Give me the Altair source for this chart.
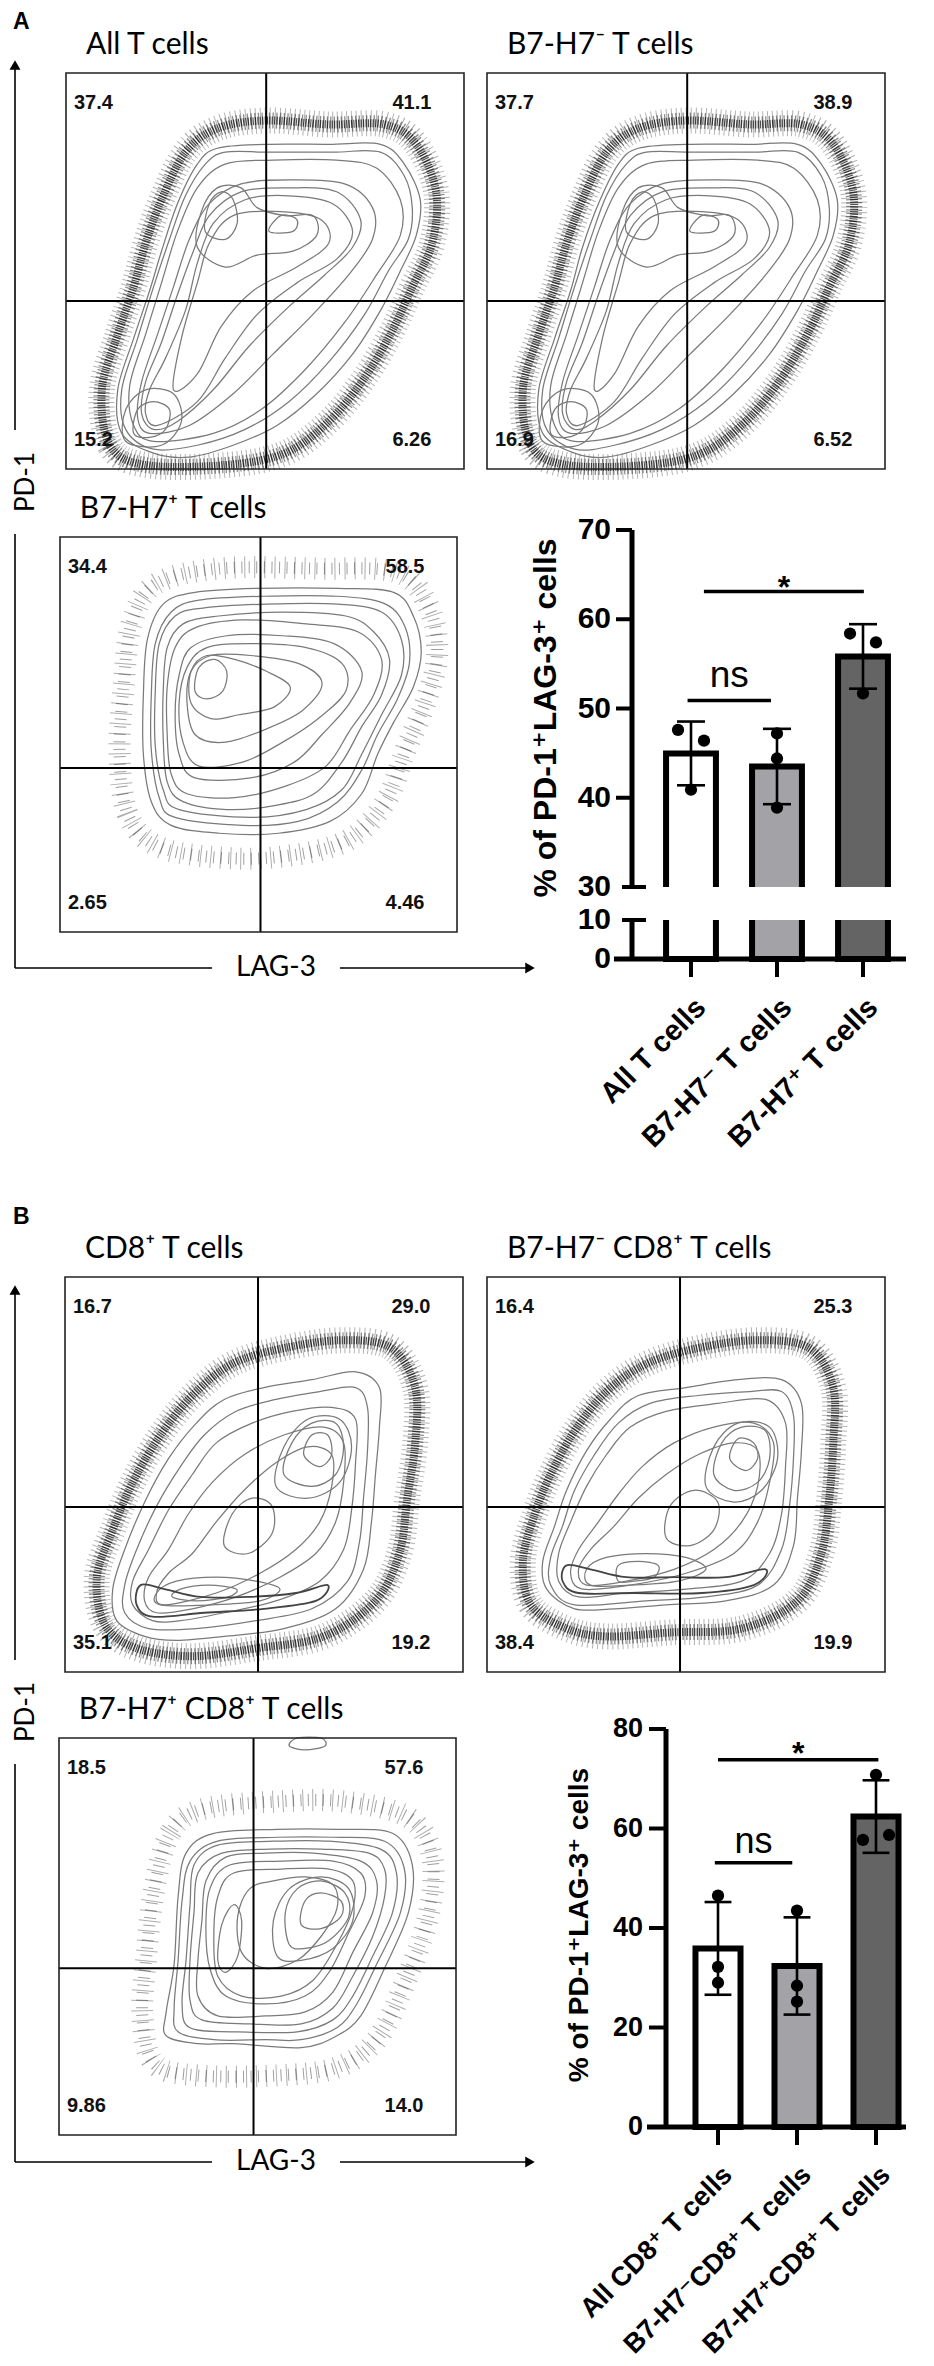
import altair as alt
import pandas as pd

M = 8  # page margin of the embed

# ================= values =================
# ---- bar charts: individual replicate values (bars / error bars are computed from them)
A_CATS = ["All T cells", "B7-H7\u207b T cells", "B7-H7\u207a T cells"]
A_DOTS = [[47.6, 46.4, 40.9], [47.2, 44.4, 38.9], [58.4, 57.4, 51.7]]
A_SIDE = [[-1, 1, 0], [0, 0, 0], [-1, 1, 0]]
A_TICKS = [0, 10, 30, 40, 50, 60, 70]
A_BREAK = [10, 30]
A_SIG = [[-0.04, 0.93, 50.9, "ns"], [0.15, 2.01, 63.1, "*"]]

B_CATS = ["All CD8\u207a T cells", "B7-H7\u207bCD8\u207a T cells", "B7-H7\u207aCD8\u207a T cells"]
B_DOTS = [[46.5, 32.2, 29.0], [43.5, 28.4, 25.2], [70.8, 57.7, 58.7]]
B_SIDE = [[0, 0, 0], [0, 0, 0], [0, -1, 1]]
B_TICKS = [0, 20, 40, 60, 80]
B_SIG = [[-0.04, 0.94, 53.1, "ns"], [0.0, 2.03, 73.8, "*"]]

Y_TITLE = "% of PD-1\u207aLAG-3\u207a cells"

# ---- flow plots
FLOW_TITLES = ["All T cells", "B7-H7\u207b T cells", "B7-H7\u207a T cells",
               "CD8\u207a T cells", "B7-H7\u207b CD8\u207a T cells", "B7-H7\u207a CD8\u207a T cells"]
FLOW_QUADS = [["37.4", "41.1", "15.2", "6.26"],
              ["37.7", "38.9", "16.9", "6.52"],
              ["34.4", "58.5", "2.65", "4.46"],
              ["16.7", "29.0", "35.1", "19.2"],
              ["16.4", "25.3", "38.4", "19.9"],
              ["18.5", "57.6", "9.86", "14.0"]]
FLOW_GATES = [[50.3, 42.4], [50.3, 42.4], [50.5, 41.5], [48.5, 41.8], [48.5, 41.8], [49.0, 42.0]]

# contour outlines (display units 0-100; x = LAG-3, y = PD-1)
A1_RINGS = [
    [(22, 4), (14, 9), (13, 20), (17, 33), (21, 45), (24, 55), (28, 67), (33, 77), (38, 81), (50, 82), (66, 82), (79, 82), (85, 77), (89, 68), (88, 59), (84, 50), (79, 40), (72, 29), (63, 19), (53, 11), (42, 6), (31, 3)],
    [(22, 5), (15, 10), (14, 20), (18, 33), (22, 46), (26, 58), (30, 69), (35, 77), (40, 80), (51, 80), (67, 80), (79, 80), (85, 74), (87, 66), (86, 58), (81, 50), (75, 39), (66, 27), (56, 17), (45, 10), (33, 6)],
    [(22, 7), (17, 11), (16, 21), (20, 34), (24, 47), (28, 60), (33, 71), (40, 77), (52, 78), (68, 78), (78, 76), (84, 68), (84, 59), (78, 49), (70, 37), (60, 25), (49, 15), (37, 9)],
    [(21, 9), (18, 13), (19, 22), (23, 34), (27, 46), (31, 58), (36, 67), (44, 72), (56, 73), (70, 72), (77, 66), (77, 58), (71, 49), (62, 39), (52, 29), (42, 19), (31, 11)],
    [(22, 10), (19, 14), (20, 22), (24, 32), (28, 44), (32, 55), (36, 64), (44, 70), (56, 71), (68, 70), (74, 63), (72, 56), (65, 49), (56, 41), (46, 31), (37, 20), (28, 12)],
    [(23, 11), (20, 14), (21, 20), (25, 28), (30, 40), (33, 52), (37, 62), (45, 68), (56, 69), (67, 67), (72, 60), (68, 53), (58, 47), (48, 39), (40, 28), (33, 17)],
    [(27, 20), (29, 33), (33, 47), (36, 57), (42, 64), (54, 65), (64, 63), (66, 57), (58, 51), (47, 45), (39, 36), (33, 24)],
    [(33, 56), (34, 65), (38, 71), (44, 71), (48, 66), (55, 64), (62, 64), (63, 59), (57, 55), (48, 54), (40, 51)],
    [(35, 60), (36, 67), (39, 70), (42, 68), (43, 62), (40, 58)],
    [(15, 7), (15, 15), (20, 20), (27, 19), (29, 12), (24, 6)],
    [(17, 9), (18, 15), (22, 17), (26, 15), (25, 10), (21, 8)],
    [(51, 60), (54, 64), (58, 63), (57, 60)],
]
A1_RIM = [(20, 1), (11, 6), (9, 20), (13, 34), (17, 46), (20, 57), (24, 68), (30, 80), (38, 86), (50, 88), (66, 87), (80, 87), (88, 82), (93, 70), (92, 57), (87, 46), (82, 35), (75, 23), (66, 12), (55, 4), (40, 1)]

A2_RINGS = [
    [(22, 4), (14, 9), (13, 20), (17, 33), (21, 45), (24, 56), (28, 67), (33, 77), (38, 81), (50, 82), (66, 82), (78, 82), (84, 77), (88, 68), (87, 59), (83, 50), (78, 40), (71, 29), (62, 19), (52, 11), (41, 6), (30, 3)],
    [(22, 5), (15, 10), (14, 20), (18, 33), (22, 46), (26, 58), (30, 69), (35, 77), (40, 80), (51, 80), (67, 80), (78, 80), (84, 74), (86, 66), (85, 58), (80, 50), (74, 39), (65, 27), (55, 17), (44, 10), (32, 6)],
    [(22, 7), (17, 11), (16, 21), (20, 34), (24, 47), (28, 60), (33, 71), (40, 77), (52, 78), (68, 78), (77, 76), (83, 68), (83, 59), (77, 49), (69, 37), (59, 25), (48, 15), (36, 9)],
    [(21, 9), (18, 13), (19, 22), (23, 34), (27, 46), (31, 58), (36, 67), (44, 72), (56, 73), (69, 72), (76, 66), (76, 58), (70, 49), (61, 39), (51, 29), (41, 19), (30, 11)],
    [(22, 10), (19, 14), (20, 22), (24, 32), (28, 44), (32, 55), (36, 64), (44, 70), (56, 71), (67, 70), (73, 63), (71, 56), (64, 49), (55, 41), (45, 31), (36, 20), (27, 12)],
    [(23, 11), (20, 14), (21, 20), (25, 28), (30, 40), (33, 52), (37, 62), (45, 68), (56, 69), (66, 67), (71, 60), (67, 53), (57, 47), (47, 39), (39, 28), (32, 17)],
    [(27, 20), (29, 33), (33, 47), (36, 57), (42, 64), (54, 65), (63, 63), (65, 57), (57, 51), (46, 45), (38, 36), (32, 24)],
    [(33, 56), (34, 65), (38, 71), (44, 71), (48, 66), (55, 64), (61, 64), (62, 59), (56, 55), (48, 54), (40, 51)],
    [(35, 60), (36, 67), (39, 70), (42, 68), (43, 62), (40, 58)],
    [(14, 7), (14, 15), (19, 20), (26, 19), (28, 12), (23, 6)],
    [(16, 9), (17, 15), (21, 17), (25, 15), (24, 10), (20, 8)],
    [(51, 60), (54, 64), (58, 63), (57, 60)],
]
A2_RIM = [(20, 1), (11, 6), (9, 20), (13, 34), (17, 46), (20, 57), (24, 68), (30, 80), (38, 86), (50, 88), (66, 87), (79, 87), (87, 82), (92, 70), (91, 57), (86, 46), (81, 35), (74, 23), (65, 12), (54, 4), (40, 1)]

A3_RINGS = [
    [(28, 27), (23, 33), (21, 45), (21, 60), (22, 74), (26, 83), (34, 86), (50, 87), (70, 87), (84, 86), (89, 80), (91, 71), (89, 62), (84, 53), (80, 45), (76, 35), (68, 28), (55, 25), (40, 25)],
    [(29, 29), (25, 34), (23, 46), (23, 60), (24, 73), (28, 81), (35, 84), (51, 85), (70, 85), (82, 83), (87, 77), (88, 68), (85, 59), (80, 50), (76, 41), (70, 33), (60, 28), (46, 27)],
    [(30, 31), (26, 36), (24, 47), (24, 61), (25, 73), (29, 80), (36, 82), (52, 83), (70, 83), (81, 81), (86, 74), (86, 65), (81, 55), (76, 45), (71, 36), (62, 31), (48, 29)],
    [(31, 33), (27, 38), (26, 49), (26, 61), (27, 72), (31, 78), (40, 80), (56, 81), (72, 80), (79, 76), (83, 69), (81, 60), (76, 52), (71, 43), (64, 35), (54, 32), (42, 31)],
    [(32, 35), (28, 40), (27, 50), (27, 62), (29, 72), (34, 77), (46, 79), (62, 78), (75, 76), (81, 69), (79, 60), (73, 51), (67, 42), (57, 37), (44, 34)],
    [(34, 39), (30, 45), (29, 55), (30, 65), (33, 72), (42, 75), (56, 75), (69, 73), (76, 66), (73, 58), (66, 50), (59, 43), (48, 39)],
    [(35, 42), (31, 48), (30, 58), (32, 67), (37, 72), (48, 73), (62, 72), (71, 68), (72, 61), (65, 54), (56, 48), (46, 43)],
    [(34, 50), (32, 58), (33, 66), (38, 70), (48, 70), (60, 68), (66, 63), (61, 56), (51, 51), (41, 48)],
    [(33, 58), (33, 66), (37, 70), (44, 69), (52, 66), (58, 62), (54, 57), (45, 55), (38, 54)],
    [(34, 61), (35, 67), (39, 69), (42, 66), (41, 61), (37, 59)],
]
A3_RIM = [(24, 22), (17, 30), (15, 45), (16, 62), (18, 78), (24, 88), (40, 92), (65, 92), (85, 91), (93, 82), (95, 70), (92, 58), (87, 46), (82, 33), (72, 23), (55, 19), (38, 19)]

B1_RINGS = [
    [(20, 9), (13, 13), (12, 21), (15, 31), (20, 43), (26, 54), (33, 63), (40, 69), (50, 72), (62, 74), (73, 76), (79, 72), (79, 62), (78, 50), (77, 38), (75, 26), (68, 16), (55, 11), (40, 9), (28, 8)],
    [(21, 11), (15, 15), (15, 22), (18, 31), (23, 42), (29, 52), (35, 60), (43, 66), (53, 69), (64, 71), (73, 72), (76, 67), (76, 56), (75, 44), (74, 33), (71, 23), (62, 16), (48, 13), (33, 11)],
    [(22, 13), (17, 17), (17, 23), (21, 31), (26, 41), (32, 50), (38, 58), (47, 63), (57, 66), (67, 67), (73, 64), (73, 53), (72, 41), (70, 31), (64, 23), (53, 18), (40, 15), (29, 13)],
    [(23, 15), (20, 18), (21, 24), (26, 31), (31, 40), (37, 48), (45, 55), (55, 60), (65, 62), (70, 58), (70, 48), (68, 38), (63, 30), (54, 24), (43, 19), (32, 16)],
    [(25, 17), (23, 20), (26, 25), (32, 30), (38, 38), (45, 46), (53, 53), (61, 57), (67, 55), (67, 47), (64, 38), (58, 31), (49, 25), (38, 20)],
    [(24, 17), (23, 20), (28, 23), (38, 24), (48, 23), (54, 21), (49, 18), (37, 17)],
    [(27, 19), (29, 21), (36, 22), (43, 21), (41, 19), (33, 18)],
    [(53, 47), (55, 57), (61, 64), (69, 64), (72, 57), (69, 48), (61, 44)],
    [(55, 50), (57, 58), (62, 63), (68, 63), (70, 57), (68, 50), (62, 47)],
    [(60, 55), (62, 60), (66, 60), (67, 55), (64, 52)],
    [(40, 32), (42, 40), (47, 44), (52, 42), (52, 35), (46, 30)],
]
B1_DARK = [(22, 14), (18, 17), (19, 22), (25, 21), (34, 19), (46, 19), (58, 20), (66, 22), (63, 18), (50, 16), (35, 15)]
B1_RIM = [(18, 6), (10, 12), (8, 24), (12, 36), (17, 48), (24, 60), (32, 70), (42, 78), (55, 82), (70, 84), (82, 82), (88, 72), (88, 58), (86, 44), (84, 30), (78, 18), (65, 9), (48, 6), (32, 4)]

B2_RINGS = [
    [(22, 16), (15, 21), (14, 28), (17, 37), (20, 46), (25, 56), (31, 64), (38, 70), (50, 72), (63, 74), (74, 74), (79, 68), (79, 56), (78, 44), (77, 32), (72, 22), (60, 18), (45, 17), (32, 16)],
    [(22, 17), (16, 22), (16, 29), (19, 37), (22, 46), (27, 55), (33, 63), (41, 68), (53, 70), (66, 71), (74, 71), (77, 65), (77, 54), (76, 42), (74, 31), (68, 22), (55, 19), (40, 18)],
    [(23, 19), (18, 23), (18, 30), (21, 38), (25, 47), (30, 55), (36, 62), (45, 66), (58, 68), (70, 69), (75, 63), (75, 52), (74, 40), (71, 30), (64, 23), (50, 21), (35, 20)],
    [(24, 21), (21, 25), (23, 31), (28, 38), (33, 45), (39, 52), (47, 58), (57, 62), (67, 63), (72, 58), (71, 48), (68, 38), (62, 30), (50, 25), (36, 22)],
    [(25, 22), (23, 26), (26, 31), (32, 37), (38, 44), (45, 50), (53, 55), (62, 58), (68, 56), (68, 47), (64, 38), (57, 31), (47, 26), (35, 23)],
    [(26, 22), (25, 26), (30, 29), (40, 30), (50, 29), (55, 26), (48, 23), (36, 22)],
    [(33, 23), (33, 27), (38, 28), (43, 27), (42, 24), (37, 23)],
    [(55, 47), (57, 57), (63, 63), (71, 62), (73, 54), (69, 46), (62, 43)],
    [(57, 50), (59, 58), (64, 62), (70, 61), (71, 54), (68, 48), (62, 46)],
    [(61, 54), (63, 59), (67, 58), (68, 54), (65, 51)],
    [(45, 34), (46, 42), (52, 46), (58, 43), (57, 36), (51, 32)],
]
B2_DARK = [(23, 20), (19, 23), (20, 27), (26, 26), (35, 24), (47, 24), (60, 24), (70, 26), (67, 22), (54, 20), (37, 20)]
B2_RIM = [(20, 11), (11, 17), (9, 28), (12, 40), (16, 50), (22, 61), (30, 71), (40, 78), (53, 82), (68, 84), (81, 82), (87, 72), (87, 58), (86, 44), (84, 30), (78, 18), (64, 11), (46, 10), (30, 9)]

B3_RINGS = [
    [(39, 76), (32, 71), (30, 60), (29, 43), (27, 31), (27, 25), (35, 23), (44, 23), (61, 22), (70, 25), (76, 30), (82, 42), (88, 56), (89, 68), (84, 76), (70, 77), (55, 77)],
    [(40, 74), (33, 69), (31, 59), (30, 44), (29, 32), (30, 26), (39, 24), (52, 24), (61, 24), (70, 27), (75, 33), (80, 43), (86, 56), (87, 67), (82, 74), (69, 75), (55, 75)],
    [(40, 73), (34, 68), (33, 58), (32, 44), (31, 33), (33, 27), (44, 26), (60, 26), (69, 29), (74, 35), (79, 45), (84, 56), (85, 66), (81, 72), (68, 74), (54, 74)],
    [(41, 71), (35, 66), (34, 56), (33, 44), (33, 34), (36, 29), (48, 28), (61, 28), (69, 32), (74, 40), (79, 50), (82, 60), (82, 67), (78, 71), (66, 72), (53, 72)],
    [(42, 70), (37, 64), (36, 54), (35, 44), (35, 35), (40, 30), (52, 30), (62, 31), (69, 36), (74, 46), (79, 56), (80, 64), (76, 69), (64, 71), (52, 71)],
    [(43, 68), (38, 62), (37, 52), (38, 42), (42, 35), (52, 33), (62, 35), (68, 41), (73, 51), (77, 60), (76, 66), (69, 69), (56, 69)],
    [(44, 66), (40, 60), (39, 50), (40, 40), (46, 35), (56, 35), (64, 39), (70, 48), (74, 57), (74, 64), (68, 67), (56, 67)],
    [(48, 62), (45, 55), (46, 46), (52, 42), (60, 44), (66, 50), (70, 57), (69, 63), (62, 65), (54, 64)],
    [(55, 45), (54, 54), (58, 62), (66, 65), (73, 62), (74, 54), (69, 47), (61, 44)],
    [(58, 48), (57, 56), (60, 62), (66, 64), (72, 61), (73, 55), (68, 49), (62, 47)],
    [(61, 53), (62, 59), (66, 61), (71, 59), (71, 55), (66, 52)],
    [(40, 44), (41, 53), (44, 58), (46, 54), (45, 45), (42, 41)],
    [(58, 98), (60, 100), (66, 100), (67, 98), (62, 97)],
]
B3_RIM = [(36, 82), (28, 76), (24, 62), (22, 45), (21, 30), (24, 18), (35, 15), (55, 15), (70, 17), (80, 24), (87, 38), (93, 55), (94, 70), (88, 80), (72, 84), (55, 84)]

FLOW_RINGS = [A1_RINGS, A2_RINGS, A3_RINGS, B1_RINGS, B2_RINGS, B3_RINGS]
FLOW_DARK = [None, None, None, B1_DARK, B2_DARK, None]
FLOW_RIMS = [A1_RIM, A2_RIM, A3_RIM, B1_RIM, B2_RIM, B3_RIM]

# ================= layout / style (page pixels) =================
FRAMES = [(66, 464, 73, 469), (487, 885, 73, 469), (60, 457, 537, 932),
          (65, 463, 1277, 1672), (487, 885, 1277, 1672), (59, 456, 1738, 2135)]
# speckle passes: (strokeWidth, dash, dashOffset, opacity)
DENSE = [(26, [1, 3.8], 0, 0.3), (16, [1.3, 2.3], 0.9, 0.45), (8, [1.1, 1.3], 0.4, 0.7)]
SPARSE = [(22, [1, 9], 0, 0.32), (12, [1, 6.5], 3, 0.38)]
RIM_STYLE = [DENSE, DENSE, SPARSE, DENSE, DENSE, SPARSE]
QPOS = [(2.0, 92.4, "left"), (91.8, 92.4, "right"), (2.0, 7.4, "left"), (91.8, 7.4, "right")]
BAR_FILLS = ["#ffffff", "#a3a3a7", "#646464"]
DUMMY = pd.DataFrame({"d": [0]})
SANS = "Liberation Sans, Arial, DejaVu Sans"
CAL = "Lato, Open Sans, DejaVu Sans"


def pos_scale(a, b, dom=(0, 100)):
    return alt.Scale(domain=list(dom), range=[a - M, b - M], nice=False, zero=False)


def rings_df(rings):
    rows = []
    for r, ring in enumerate(rings):
        for i, (x, y) in enumerate(ring):
            rows.append({"ring": r, "i": i, "x": x, "y": y})
    return pd.DataFrame(rows)


def flow_panel(k):
    L, R, T, B = FRAMES[k]
    xs = pos_scale(L, R)
    ys = pos_scale(B, T)

    def X(f):
        return alt.X(f, scale=xs, axis=None)

    def Y(f):
        return alt.Y(f, scale=ys, axis=None)

    layers = []
    rim = rings_df([FLOW_RIMS[k]])
    for w, dash, off, op in RIM_STYLE[k]:
        layers.append(alt.Chart(rim).mark_line(
            interpolate="cardinal-closed", color="black", strokeWidth=w,
            strokeDash=dash, strokeDashOffset=off, opacity=op).encode(
            x=X("x:Q"), y=Y("y:Q"), order=alt.Order("i:Q")))
    layers.append(alt.Chart(rings_df(FLOW_RINGS[k])).mark_line(
        interpolate="cardinal-closed", color="#7a7a7a", strokeWidth=1.25).encode(
        x=X("x:Q"), y=Y("y:Q"), detail="ring:N", order=alt.Order("i:Q")))
    if FLOW_DARK[k]:
        layers.append(alt.Chart(rings_df([FLOW_DARK[k]])).mark_line(
            interpolate="cardinal-closed", color="#444444", strokeWidth=1.8).encode(
            x=X("x:Q"), y=Y("y:Q"), order=alt.Order("i:Q")))
    qx, qy = FLOW_GATES[k]
    layers.append(alt.Chart(DUMMY).mark_rule(color="black", strokeWidth=2).encode(
        x=alt.XDatum(qx, scale=xs, axis=None), y=alt.YDatum(0, scale=ys, axis=None), y2=alt.Y2Datum(100)))
    layers.append(alt.Chart(DUMMY).mark_rule(color="black", strokeWidth=2).encode(
        y=alt.YDatum(qy, scale=ys, axis=None), x=alt.XDatum(0, scale=xs, axis=None), x2=alt.X2Datum(100)))
    layers.append(alt.Chart(DUMMY).mark_rect(fillOpacity=0, stroke="#222222", strokeWidth=1.6).encode(
        x=alt.XDatum(0, scale=xs, axis=None), x2=alt.X2Datum(100),
        y=alt.YDatum(0, scale=ys, axis=None), y2=alt.Y2Datum(100)))
    qdf = pd.DataFrame([{"v": v, "x": p[0], "y": p[1], "al": p[2]} for v, p in zip(FLOW_QUADS[k], QPOS)])
    for al in ["left", "right"]:
        layers.append(alt.Chart(qdf).transform_filter(f"datum.al == '{al}'").mark_text(
            align=al, baseline="middle", font=SANS, fontWeight="bold", fontSize=20, color="#111111").encode(
            x=X("x:Q"), y=Y("y:Q"), text="v:N"))
    layers.append(alt.Chart(DUMMY).mark_text(
        text=FLOW_TITLES[k], align="left", baseline="alphabetic", font=CAL, fontSize=30, color="black").encode(
        x=alt.XDatum(5, scale=xs, axis=None), y=alt.YDatum(104.7, scale=ys, axis=None)))
    return alt.layer(*layers)


def bar_panel(cats, dots, side, ticks, brk, sig, P):
    rows = [dict(idx=i, cat=c, v=v, s=s) for i, c in enumerate(cats) for v, s in zip(dots[i], side[i])]
    df = pd.DataFrame(rows)
    xs = pos_scale(P["x0"], P["x1"], (-0.5, 2.5))
    if brk:
        ydom = [ticks[0], brk[0], brk[1], ticks[-1]]
    else:
        ydom = [ticks[0], ticks[-1]]
    ys = alt.Scale(domain=ydom, range=[p - M for p in P["yrng"]], nice=False, zero=False)

    def X(f):
        return alt.X(f, scale=xs, axis=None)

    def Y(f):
        return alt.Y(f, scale=ys, axis=None)

    base = alt.Chart(df)
    stats = base.transform_aggregate(
        mean="mean(v)", sd="stdev(v)", groupby=["idx", "cat"]).transform_calculate(
        lo="datum.mean - datum.sd", hi="datum.mean + datum.sd",
        xl=f"datum.idx - {P['bh']}", xr=f"datum.idx + {P['bh']}",
        cl=f"datum.idx - {P['ch']}", cr=f"datum.idx + {P['ch']}", z="0")
    y0 = P["yrng"][0]
    layers = [
        stats.mark_rect(stroke="black", strokeWidth=6).encode(
            x=X("xl:Q"), x2="xr:Q", y=Y("mean:Q"), y2="z:Q",
            fill=alt.Fill("idx:N", scale=alt.Scale(domain=[0, 1, 2], range=BAR_FILLS), legend=None)),
    ]
    if brk:
        layers.append(alt.Chart(DUMMY).mark_rect(fill="white").encode(
            x=alt.value(P["ax"] - M + 4), x2=alt.value(P["x1"] + 10 - M),
            y=alt.YDatum(brk[0], scale=ys, axis=None), y2=alt.Y2Datum(brk[1])))
        segs = pd.DataFrame({"a": [ticks[0], brk[1]], "b": [brk[0], ticks[-1]]})
    else:
        segs = pd.DataFrame({"a": [ticks[0]], "b": [ticks[-1]]})
    layers.append(alt.Chart(segs).mark_rule(color="black", strokeWidth=5).encode(
        x=alt.value(P["ax"] - M), y=Y("a:Q"), y2="b:Q"))
    tdf = pd.DataFrame({"t": ticks})
    layers.append(alt.Chart(tdf).transform_filter(
        f"datum.t != {ticks[0]} && indexof({list(brk)}, datum.t) < 0").mark_rule(color="black", strokeWidth=4).encode(
        y=Y("t:Q"), x=alt.value(P["tl"] - M), x2=alt.value(P["ax"] - M)))
    if brk:
        layers.append(alt.Chart(tdf).transform_filter(
            f"indexof({list(brk)}, datum.t) >= 0").mark_rule(color="black", strokeWidth=4).encode(
            y=Y("t:Q"), x=alt.value(P["capl"] - M), x2=alt.value(P["capr"] - M)))
    layers.append(alt.Chart(tdf).mark_text(
        align="right", baseline="middle", font=SANS, fontWeight="bold", fontSize=P["tfs"], color="black").encode(
        y=Y("t:Q"), x=alt.value(P["lr"] - M), text=alt.Text("t:Q", format="d")))
    # x axis line and ticks
    layers.append(alt.Chart(DUMMY).mark_rule(color="black", strokeWidth=5).encode(
        y=alt.YDatum(ticks[0], scale=ys, axis=None), x=alt.value(P["xa0"] - M), x2=alt.value(P["xa1"] - M)))
    layers.append(stats.mark_rule(color="black", strokeWidth=4).encode(
        x=X("idx:Q"), y=alt.value(y0 - M), y2=alt.value(y0 + 18 - M)))
    layers.append(stats.mark_text(
        angle=315, align="right", baseline="middle", xOffset=P["lxo"], font=SANS, fontWeight="bold",
        fontSize=P["lfs"], color="black").encode(x=X("idx:Q"), y=alt.value(P["ly"] - M), text="cat:N"))
    # error bars + caps
    layers.append(stats.mark_rule(color="black", strokeWidth=2.6).encode(x=X("idx:Q"), y=Y("lo:Q"), y2="hi:Q"))
    layers.append(stats.transform_fold(["lo", "hi"], as_=["k", "val"]).mark_rule(color="black", strokeWidth=2.6).encode(
        x=X("cl:Q"), x2="cr:Q", y=Y("val:Q")))
    # replicate dots
    layers.append(base.transform_calculate(xd=f"datum.idx + datum.s * {P['dj']}").mark_circle(
        size=150, color="black", opacity=1).encode(x=X("xd:Q"), y=Y("v:Q")))
    # significance
    sdf = pd.DataFrame(sig, columns=["a", "b", "y", "lab"])
    layers.append(alt.Chart(sdf).mark_rule(color="black", strokeWidth=3.5).encode(x=X("a:Q"), x2="b:Q", y=Y("y:Q")))
    sm = alt.Chart(sdf).transform_calculate(m="(datum.a + datum.b) / 2")
    layers.append(sm.transform_filter("datum.lab == 'ns'").mark_text(
        baseline="alphabetic", dy=P["nsdy"], font=SANS, fontSize=P["nsfs"], color="black").encode(
        x=X("m:Q"), y=Y("y:Q"), text="lab:N"))
    layers.append(sm.transform_filter("datum.lab == '*'").mark_text(
        baseline="alphabetic", dy=P["stdy"], font=SANS, fontWeight="bold", fontSize=32, color="black").encode(
        x=X("m:Q"), y=Y("y:Q"), text="lab:N"))
    layers.append(alt.Chart(DUMMY).mark_text(
        text=Y_TITLE, angle=270, align="center", baseline="middle", font=SANS, fontWeight="bold",
        fontSize=P["yfs"], color="black").encode(x=alt.value(P["yt"][0] - M), y=alt.value(P["yt"][1] - M)))
    return alt.layer(*layers)


PA = dict(x0=648, x1=906, yrng=[959, 920, 887, 530], ax=632, tl=616, capl=622, capr=646, lr=611,
          xa0=614, xa1=906, bh=0.29, ch=0.163, dj=0.151, tfs=30, lfs=29, ly=1003, lxo=10,
          nsdy=-13, nsfs=37, stdy=6, yfs=32, yt=(546, 718))
PB = dict(x0=678.5, x1=915.5, yrng=[2127, 1729], ax=666, tl=649, capl=0, capr=0, lr=643,
          xa0=647, xa1=906, bh=0.285, ch=0.17, dj=0.165, tfs=27, lfs=27, ly=2171, lxo=10,
          nsdy=-10, nsfs=36, stdy=4, yfs=28, yt=(580, 1925))


# ================= decorations (panel letters, PD-1 / LAG-3 arrows) =================
def vline(x, y1, y2):
    return alt.Chart(DUMMY).mark_rule(color="black", strokeWidth=1.6).encode(
        x=alt.value(x - M), y=alt.value(y1 - M), y2=alt.value(y2 - M))


def hline(y, x1, x2):
    return alt.Chart(DUMMY).mark_rule(color="black", strokeWidth=1.6).encode(
        y=alt.value(y - M), x=alt.value(x1 - M), x2=alt.value(x2 - M))


def head(x, y, shape):
    return alt.Chart(DUMMY).mark_point(shape=shape, filled=True, size=120, color="black", opacity=1).encode(
        x=alt.value(x - M), y=alt.value(y - M))


def label(text, x, y, font, size, weight="normal", angle=0, align="center", baseline="middle"):
    return alt.Chart(DUMMY).mark_text(text=text, font=font, fontSize=size, fontWeight=weight, angle=angle,
                                      align=align, baseline=baseline, color="black").encode(
        x=alt.value(x - M), y=alt.value(y - M))


deco = []
for (top, gap1, gap2, corner, ltr, ly) in [(58, 430, 534, 968, "A", 11), (1283, 1660, 1764, 2162, "B", 1206)]:
    deco += [
        vline(15, top + 8, gap1), vline(15, gap2, corner),
        hline(corner, 15, 212), hline(corner, 340, 528),
        head(15, top + 7, "triangle-up"), head(530, corner, "triangle-right"),
        label("PD-1", 26, (gap1 + gap2) / 2, CAL, 26, angle=270),
        label("LAG-3", 276, corner, CAL, 28),
        label(ltr, 13, ly, SANS, 23, weight="bold", align="left", baseline="top"),
    ]

panels = [flow_panel(k) for k in range(6)]
panels.append(bar_panel(A_CATS, A_DOTS, A_SIDE, A_TICKS, A_BREAK, A_SIG, PA))
panels.append(bar_panel(B_CATS, B_DOTS, B_SIDE, B_TICKS, [], B_SIG, PB))

chart = alt.layer(*panels, *deco).resolve_scale(x="independent", y="independent").properties(
    width=918, height=2350, padding=0, autosize="none").configure_view(stroke=None)

chart.save("out.html", embed_options={"renderer": "svg", "actions": False})
